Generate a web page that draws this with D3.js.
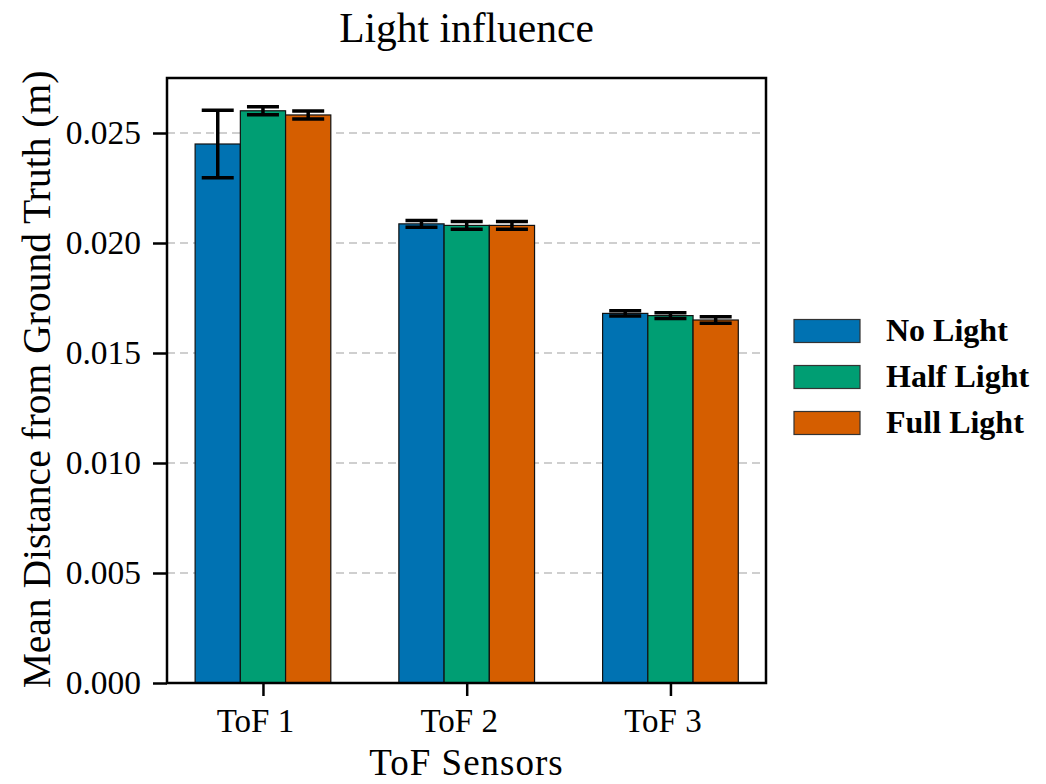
<!DOCTYPE html>
<html>
<head>
<meta charset="utf-8">
<script src="https://cdn.jsdelivr.net/npm/d3@7"></script>
<style>
  html, body { margin: 0; padding: 0; background: #fff; }
  svg { display: block; }
  text { font-family: "Liberation Serif", "Times New Roman", serif; fill: #000; }
</style>
</head>
<body>
<svg id="chart" width="1046" height="784"></svg>
<script>
// Sensor categories and lighting conditions
const sensors = ["ToF 1", "ToF 2", "ToF 3"];
const conditions = ["No Light", "Half Light", "Full Light"];
const colors = ["#0072b2", "#009e73", "#d55e00"];

// Mean distance from ground truth (m), per condition across sensors
const noLight   = [0.02450, 0.02087, 0.01680];
const halfLight = [0.02601, 0.02080, 0.01670];
const fullLight = [0.02582, 0.02080, 0.01650];

// Error bar half-widths
const noLightErr   = [0.00153, 0.00015, 0.00012];
const halfLightErr = [0.00018, 0.00018, 0.00013];
const fullLightErr = [0.00018, 0.00018, 0.00015];

const yTicks = [0, 0.005, 0.010, 0.015, 0.020, 0.025];

const series = [
  { name: conditions[0], values: noLight,   errs: noLightErr,   color: colors[0] },
  { name: conditions[1], values: halfLight, errs: halfLightErr, color: colors[1] },
  { name: conditions[2], values: fullLight, errs: fullLightErr, color: colors[2] }
];

const svg = d3.select("#chart");
const plot = { left: 167, right: 766, top: 78, bottom: 683 };

const x = d3.scaleLinear().domain([-0.471, 2.469]).range([plot.left, plot.right]);
const y = d3.scaleLinear().domain([0, 0.0275]).range([plot.bottom, plot.top]);
const barW = 0.222;

// Horizontal dashed grid
svg.append("g")
  .selectAll("line")
  .data(yTicks.slice(1))
  .join("line")
  .attr("x1", plot.left).attr("x2", plot.right)
  .attr("y1", d => y(d)).attr("y2", d => y(d))
  .attr("stroke", "#cfcfcf")
  .attr("stroke-width", 2)
  .attr("stroke-dasharray", "8,5");

// Bars
series.forEach((s, k) => {
  const off = (k - 1) * barW;
  svg.append("g")
    .selectAll("rect")
    .data(s.values)
    .join("rect")
    .attr("x", (d, i) => x(i + off - barW / 2))
    .attr("width", x(barW) - x(0))
    .attr("y", d => y(d))
    .attr("height", d => y(0) - y(d))
    .attr("fill", s.color)
    .attr("stroke", "#111")
    .attr("stroke-width", 1.2);
});

// Error bars with caps
const capHalf = 16;
series.forEach((s, k) => {
  const off = (k - 1) * barW;
  const g = svg.append("g").attr("stroke", "#000").attr("stroke-width", 3.5);
  s.values.forEach((v, i) => {
    const cx = x(i + off);
    const lo = y(v - s.errs[i]), hi = y(v + s.errs[i]);
    g.append("line").attr("x1", cx).attr("x2", cx).attr("y1", lo).attr("y2", hi);
    g.append("line").attr("x1", cx - capHalf).attr("x2", cx + capHalf).attr("y1", lo).attr("y2", lo);
    g.append("line").attr("x1", cx - capHalf).attr("x2", cx + capHalf).attr("y1", hi).attr("y2", hi);
  });
});

// Axes
const yAxis = d3.axisLeft(y).tickValues(yTicks).tickFormat(d3.format(".3f"))
  .tickSize(14).tickPadding(12);
const yg = svg.append("g").attr("transform", `translate(${plot.left},0)`).call(yAxis);
yg.select(".domain").remove();
yg.selectAll(".tick line").attr("stroke", "#000").attr("stroke-width", 2.5);
yg.selectAll(".tick text").style("font-size", "33.5px").style("font-family", "Liberation Serif, serif");

const xAxis = d3.axisBottom(x).tickValues([0, 1, 2]).tickFormat(i => sensors[i])
  .tickSize(13).tickPadding(12);
const xg = svg.append("g").attr("transform", `translate(0,${plot.bottom})`).call(xAxis);
xg.select(".domain").remove();
xg.selectAll(".tick line").attr("stroke", "#000").attr("stroke-width", 2.5);
xg.selectAll(".tick text")
  .attr("dx", -8)
  .attr("y", 49).attr("dy", 0)
  .style("font-size", "33px").style("font-family", "Liberation Serif, serif");

// Frame
svg.append("rect")
  .attr("x", plot.left).attr("y", plot.top)
  .attr("width", plot.right - plot.left).attr("height", plot.bottom - plot.top)
  .attr("fill", "none").attr("stroke", "#000").attr("stroke-width", 2.5);

// Title and axis labels
svg.append("text")
  .attr("x", (plot.left + plot.right) / 2).attr("y", 42)
  .attr("text-anchor", "middle").style("font-size", "41.5px")
  .text("Light influence");

svg.append("text")
  .attr("x", (plot.left + plot.right) / 2).attr("y", 775)
  .attr("text-anchor", "middle").style("font-size", "37px")
  .style("letter-spacing", "1px")
  .text("ToF Sensors");

svg.append("text")
  .attr("transform", `translate(50,${(plot.top + plot.bottom) / 2 - 1}) rotate(-90)`)
  .attr("text-anchor", "middle").style("font-size", "39.5px")
  .text("Mean Distance from Ground Truth (m)");

// Legend
const legend = svg.append("g");
series.forEach((s, k) => {
  const cy = 331 + k * 46;
  legend.append("rect")
    .attr("x", 794).attr("y", cy - 11.5)
    .attr("width", 66).attr("height", 23)
    .attr("fill", s.color).attr("stroke", "#333").attr("stroke-width", 1.2);
  legend.append("text")
    .attr("x", 886).attr("y", cy + 10)
    .style("font-size", "32px").style("font-weight", "bold")
    .text(s.name);
});
</script>
</body>
</html>
